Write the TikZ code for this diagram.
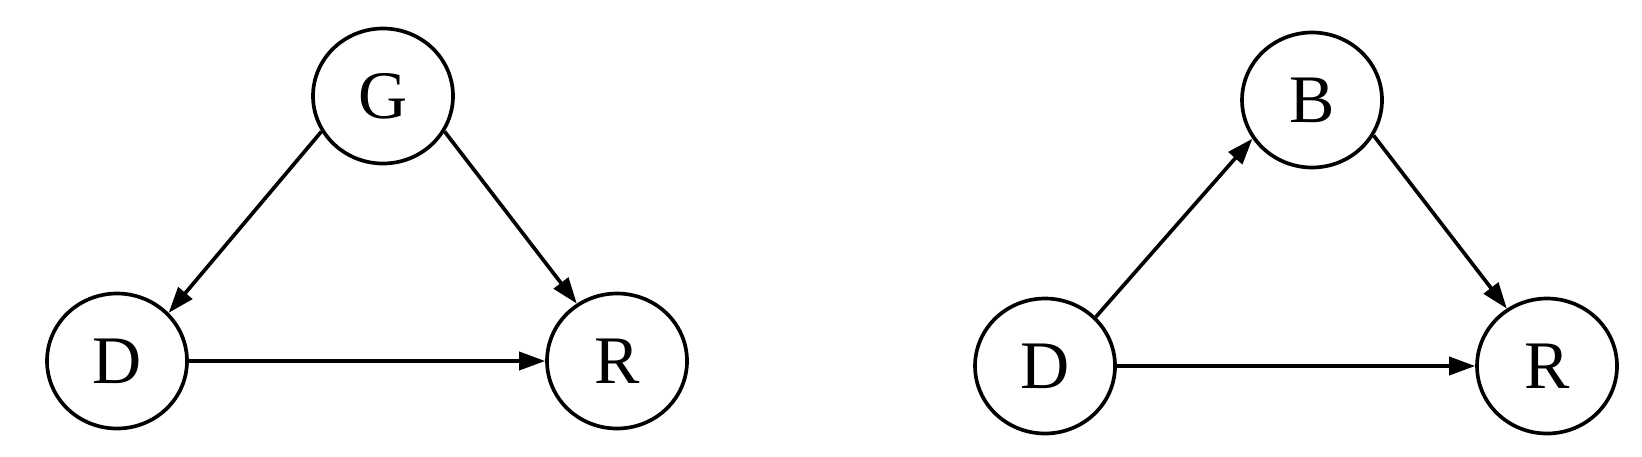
\documentclass[tikz,border=0pt]{standalone}
\usepackage{fontspec}
\setmainfont{Liberation Serif}
\usetikzlibrary{arrows.meta,shapes.geometric}

\begin{document}
\begin{tikzpicture}[
  x=0.3pt, y=-0.3pt,
  font=\fontsize{20.4}{24}\selectfont,
  var/.style={draw=black, line width=1.1pt, ellipse, inner sep=0pt,
              minimum width=42pt, minimum height=40.5pt},
  edge/.style={draw=black, line width=1.1pt, -{Triangle[length=7.8pt,width=5.4pt]}}
]
\useasboundingbox (0,0) rectangle (1642,456);
% left graph
\node[var] (g)  at (383,96)  {G};
\node[var] (d1) at (117,361) {D};
\node[var] (r1) at (617,361) {R};
\draw[edge] (g.210) -- (d1.43);
\draw[edge] (g.330) -- (r1.125);
\draw[edge] (d1.east) -- (r1.west);
% right graph
\node[var] (b)  at (1312,100) {B};
\node[var] (d2) at (1045,366) {D};
\node[var] (r2) at (1547,366) {R};
\draw[edge] (d2.44) -- (b.213);
\draw[edge] (b.330) -- (r2.125);
\draw[edge] (d2.east) -- (r2.west);
\end{tikzpicture}
\end{document}
